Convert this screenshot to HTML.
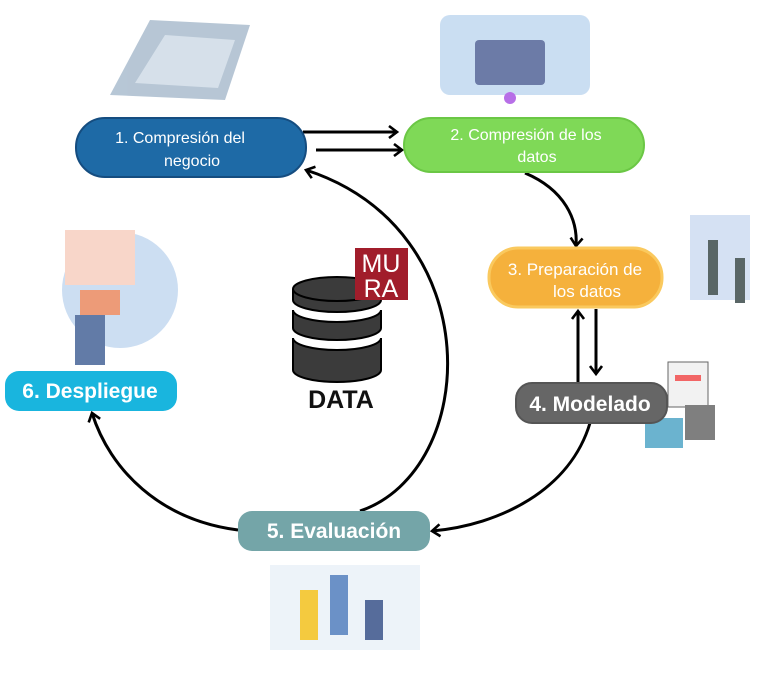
<!DOCTYPE html>
<html><head><meta charset="utf-8"><style>
html,body{margin:0;padding:0;background:#fff;}
svg{display:block;font-family:"Liberation Sans",sans-serif;}
</style></head><body>
<svg width="777" height="674" viewBox="0 0 777 674" xmlns="http://www.w3.org/2000/svg">
<defs>
<marker id="ah" markerWidth="14" markerHeight="14" refX="10" refY="7" orient="auto" markerUnits="userSpaceOnUse">
<path d="M2,1 L10,7 L2,13" fill="none" stroke="#000" stroke-width="2.6"/>
</marker>
</defs>
<!-- decorative illustrations (approx) -->
<g opacity="0.75">
<polygon points="150,20 250,25 225,100 110,95" fill="#9fb4c8"/>
<polygon points="165,35 235,40 218,88 135,83" fill="#c9d6e3"/>
<rect x="440" y="15" width="150" height="80" rx="10" fill="#b9d3ee"/>
<rect x="475" y="40" width="70" height="45" rx="4" fill="#3c4f8a"/>
<circle cx="510" cy="98" r="6" fill="#a040e0"/>
<circle cx="120" cy="290" r="58" fill="#bcd3ee"/>
<rect x="65" y="230" width="70" height="55" fill="#f6c9b8"/>
<rect x="80" y="290" width="40" height="25" fill="#e87a4b"/>
<rect x="75" y="315" width="30" height="50" fill="#2e4f8a"/>
<rect x="690" y="215" width="60" height="85" fill="#c7d8ef"/>
<rect x="708" y="240" width="10" height="55" fill="#233"/>
<rect x="735" y="258" width="10" height="45" fill="#233"/>
<rect x="668" y="362" width="40" height="45" fill="#eee" stroke="#333"/>
<rect x="675" y="375" width="26" height="6" fill="#e33"/>
<rect x="645" y="418" width="38" height="30" fill="#3a9abf"/>
<rect x="685" y="405" width="30" height="35" fill="#555"/>
<rect x="270" y="565" width="150" height="85" fill="#e8eff7"/>
<rect x="300" y="590" width="18" height="50" fill="#f1b900"/>
<rect x="330" y="575" width="18" height="60" fill="#3a6db5"/>
<rect x="365" y="600" width="18" height="40" fill="#1e3c7a"/>
</g>
<!-- connectors -->
<g fill="none" stroke="#000" stroke-width="3">
<line x1="303" y1="132" x2="397" y2="132" marker-end="url(#ah)"/>
<line x1="316" y1="150" x2="402" y2="150" marker-end="url(#ah)"/>
<path d="M525,173 C565,190 578,220 576,246" marker-end="url(#ah)"/>
<line x1="596" y1="309" x2="596" y2="374" marker-end="url(#ah)"/>
<line x1="578" y1="382" x2="578" y2="311" marker-end="url(#ah)"/>
<path d="M590,423 C570,490 500,525 432,531" marker-end="url(#ah)"/>
<path d="M360,511 C480,470 490,230 306,170" marker-end="url(#ah)"/>
<path d="M238,530 C160,520 110,470 92,413" marker-end="url(#ah)"/>
</g>
<!-- boxes -->
<rect x="76" y="118" width="230" height="59" rx="29" fill="#1e6aa6" stroke="#154d80" stroke-width="2"/>
<text x="180" y="143" fill="#fff" font-size="16" text-anchor="middle">1.  Compresión del</text>
<text x="192" y="166" fill="#fff" font-size="16" text-anchor="middle">negocio</text>
<rect x="404" y="118" width="240" height="54" rx="27" fill="#7fd957" stroke="#6bc745" stroke-width="2"/>
<text x="526" y="140" fill="#fff" font-size="16" text-anchor="middle">2. Compresión de los</text>
<text x="537" y="162" fill="#fff" font-size="16" text-anchor="middle">datos</text>
<rect x="489" y="248" width="173" height="59" rx="29" fill="#f5b13c" stroke="#fac95e" stroke-width="3"/>
<text x="575" y="275" fill="#fff" font-size="17" text-anchor="middle">3.  Preparación de</text>
<text x="587" y="297" fill="#fff" font-size="17" text-anchor="middle">los datos</text>
<rect x="516" y="383" width="151" height="40" rx="16" fill="#666" stroke="#555" stroke-width="2"/>
<text x="590" y="411" fill="#fff" font-size="21" font-weight="bold" text-anchor="middle">4. Modelado</text>
<rect x="5" y="371" width="172" height="40" rx="14" fill="#19b5de"/>
<text x="90" y="398" fill="#fff" font-size="21" font-weight="bold" text-anchor="middle">6. Despliegue</text>
<rect x="238" y="511" width="192" height="40" rx="14" fill="#74a5a8"/>
<text x="334" y="538" fill="#fff" font-size="21" font-weight="bold" text-anchor="middle">5. Evaluación</text>
<!-- database -->
<g fill="#3b3b3b" stroke="#000" stroke-width="2">
<path d="M293,338 L293,370 A44,12 0 0 0 381,370 L381,338 A44,12 0 0 1 293,338 Z"/>
<path d="M293,310 L293,328 A44,12 0 0 0 381,328 L381,310 A44,12 0 0 1 293,310 Z"/>
<path d="M293,290 L293,300 A44,12 0 0 0 381,300 L381,290 Z"/>
<ellipse cx="337" cy="289" rx="44" ry="12"/>
</g>
<text x="341" y="408" font-size="25" font-weight="bold" text-anchor="middle" fill="#111">DATA</text>
<rect x="355" y="248" width="53" height="52" fill="#a11d2b"/>
<text x="381" y="272" font-size="25" fill="#fff" text-anchor="middle">MU</text>
<text x="381" y="297" font-size="25" fill="#fff" text-anchor="middle">RA</text>
</svg>
</body></html>
